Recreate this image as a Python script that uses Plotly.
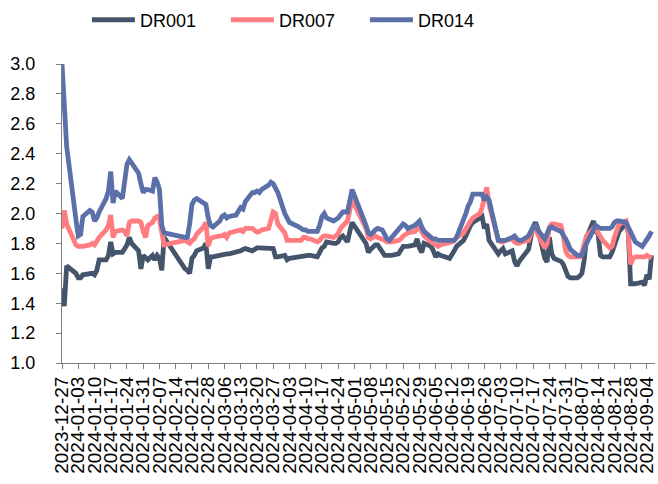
import plotly.graph_objects as go

dates = [
    "2023-12-27", "2023-12-28", "2023-12-29",
    "2024-01-02", "2024-01-03", "2024-01-04", "2024-01-05",
    "2024-01-08", "2024-01-09", "2024-01-10", "2024-01-11", "2024-01-12",
    "2024-01-15", "2024-01-16", "2024-01-17", "2024-01-18", "2024-01-19",
    "2024-01-22", "2024-01-23", "2024-01-24", "2024-01-25", "2024-01-26",
    "2024-01-29", "2024-01-30", "2024-01-31", "2024-02-01", "2024-02-02",
    "2024-02-04", "2024-02-05", "2024-02-06", "2024-02-07", "2024-02-08", "2024-02-09",
    "2024-02-18", "2024-02-19", "2024-02-20", "2024-02-21", "2024-02-22", "2024-02-23",
    "2024-02-26", "2024-02-27", "2024-02-28", "2024-02-29", "2024-03-01",
    "2024-03-04", "2024-03-05", "2024-03-06", "2024-03-07", "2024-03-08",
    "2024-03-11", "2024-03-12", "2024-03-13", "2024-03-14", "2024-03-15",
    "2024-03-18", "2024-03-19", "2024-03-20", "2024-03-21", "2024-03-22",
    "2024-03-25", "2024-03-26", "2024-03-27", "2024-03-28", "2024-03-29",
    "2024-04-01", "2024-04-02", "2024-04-03",
    "2024-04-07", "2024-04-08", "2024-04-09", "2024-04-10", "2024-04-11", "2024-04-12",
    "2024-04-15", "2024-04-16", "2024-04-17", "2024-04-18", "2024-04-19",
    "2024-04-22", "2024-04-23", "2024-04-24", "2024-04-25", "2024-04-26",
    "2024-04-28", "2024-04-29", "2024-04-30",
    "2024-05-06", "2024-05-07", "2024-05-08", "2024-05-09", "2024-05-10", "2024-05-11",
    "2024-05-13", "2024-05-14", "2024-05-15", "2024-05-16", "2024-05-17",
    "2024-05-20", "2024-05-21", "2024-05-22", "2024-05-23", "2024-05-24",
    "2024-05-27", "2024-05-28", "2024-05-29", "2024-05-30", "2024-05-31",
    "2024-06-03", "2024-06-04", "2024-06-05", "2024-06-06", "2024-06-07",
    "2024-06-11", "2024-06-12", "2024-06-13", "2024-06-14",
    "2024-06-17", "2024-06-18", "2024-06-19", "2024-06-20", "2024-06-21",
    "2024-06-24", "2024-06-25", "2024-06-26", "2024-06-27", "2024-06-28",
    "2024-07-01", "2024-07-02", "2024-07-03", "2024-07-04", "2024-07-05",
    "2024-07-08", "2024-07-09", "2024-07-10", "2024-07-11", "2024-07-12",
    "2024-07-15", "2024-07-16", "2024-07-17", "2024-07-18", "2024-07-19",
    "2024-07-22", "2024-07-23", "2024-07-24", "2024-07-25", "2024-07-26",
    "2024-07-29", "2024-07-30", "2024-07-31", "2024-08-01", "2024-08-02",
    "2024-08-05", "2024-08-06", "2024-08-07", "2024-08-08", "2024-08-09",
    "2024-08-12", "2024-08-13", "2024-08-14", "2024-08-15", "2024-08-16",
    "2024-08-19", "2024-08-20", "2024-08-21", "2024-08-22", "2024-08-23",
    "2024-08-26", "2024-08-27", "2024-08-28", "2024-08-29", "2024-08-30",
    "2024-09-02", "2024-09-03", "2024-09-04", "2024-09-05", "2024-09-06",
]

dr001 = [
    1.50, 1.38, 1.65,
    1.60, 1.57, 1.57, 1.59,
    1.60, 1.60, 1.59, 1.62, 1.69,
    1.69, 1.72, 1.81, 1.73, 1.74,
    1.74, 1.77, 1.79, 1.84, 1.80,
    1.75, 1.63, 1.72, 1.70, 1.69,
    1.72, 1.69, 1.72, 1.70, 1.62, 1.84,
    1.63, 1.62, 1.60, 1.70, 1.72, 1.75,
    1.77, 1.80, 1.63, 1.71, 1.71,
    1.72, 1.73, 1.73, 1.73, 1.73,
    1.74, 1.74, 1.75, 1.76, 1.765,
    1.75, 1.76, 1.77, 1.77, 1.77,
    1.77, 1.77, 1.765, 1.71, 1.71,
    1.72, 1.69, 1.70,
    1.71, 1.72, 1.72, 1.72, 1.72, 1.72,
    1.71, 1.74, 1.77, 1.78, 1.81,
    1.80, 1.80, 1.81, 1.84, 1.85,
    1.81, 1.88, 1.94,
    1.80, 1.74, 1.76, 1.78, 1.79, 1.79,
    1.75, 1.72, 1.72, 1.72, 1.72,
    1.73, 1.76, 1.78, 1.78, 1.78,
    1.79, 1.83, 1.77, 1.74, 1.80,
    1.78, 1.75, 1.71, 1.73, 1.72,
    1.70, 1.72, 1.75, 1.78,
    1.82, 1.85, 1.89, 1.92, 1.94,
    1.965, 1.98, 1.90, 1.93, 1.82,
    1.75, 1.73, 1.75, 1.765, 1.73,
    1.75, 1.68, 1.65, 1.68, 1.70,
    1.76, 1.84, 1.91, 1.94, 1.90,
    1.70, 1.675, 1.84, 1.73, 1.70,
    1.68, 1.66, 1.62, 1.58, 1.57,
    1.57, 1.58, 1.60, 1.69, 1.84,
    1.95, 1.88, 1.865, 1.72, 1.71,
    1.71, 1.74, 1.78, 1.84, 1.88,
    1.93, 1.87, 1.53, 1.53, 1.53,
    1.54, 1.52, 1.59, 1.56, 1.72,
]

dr007 = [
    1.90, 2.02, 1.93,
    1.79, 1.78, 1.78, 1.78,
    1.79, 1.80, 1.79, 1.82, 1.84,
    1.89, 1.92, 1.99, 1.84, 1.88,
    1.89, 1.88, 1.85, 1.94, 1.95,
    1.95, 1.94, 1.88, 1.84, 1.92,
    1.94, 1.97, 1.98, 1.96, 1.88, 1.79,
    1.82, 1.81, 1.80, 1.82, 1.83, 1.86,
    1.91, 1.94, 1.78, 1.83, 1.84,
    1.85, 1.85, 1.86, 1.84, 1.87,
    1.88, 1.89, 1.89, 1.88, 1.90,
    1.90, 1.89, 1.875, 1.88, 1.89,
    1.90, 1.96, 2.01, 2.00, 1.93,
    1.87, 1.82, 1.82,
    1.82, 1.82, 1.84, 1.84, 1.83, 1.83,
    1.81, 1.82, 1.84, 1.85, 1.85,
    1.84, 1.85, 1.865, 1.90, 1.92,
    1.95, 2.02, 2.09,
    1.90, 1.84, 1.83, 1.84, 1.85, 1.84,
    1.83, 1.82, 1.81, 1.81, 1.81,
    1.82, 1.83, 1.85, 1.86, 1.87,
    1.88, 1.90, 1.91, 1.88, 1.85,
    1.81, 1.80, 1.79, 1.78, 1.79,
    1.80, 1.81, 1.82, 1.84,
    1.87, 1.90, 1.93, 1.95, 1.97,
    2.00, 2.04, 2.12, 2.175, 2.06,
    1.87, 1.82, 1.81, 1.81, 1.82,
    1.83, 1.81, 1.80, 1.80, 1.81,
    1.82, 1.86, 1.90, 1.91, 1.86,
    1.77, 1.80, 1.91, 1.93, 1.93,
    1.92, 1.85, 1.75, 1.72, 1.71,
    1.71, 1.71, 1.74, 1.80, 1.85,
    1.90, 1.89, 1.87, 1.84, 1.82,
    1.77, 1.78, 1.84, 1.90, 1.93,
    1.95, 1.87, 1.66, 1.70, 1.71,
    1.71, 1.71, 1.72, 1.71, 1.70,
]

dr014 = [
    3.00, 2.72, 2.45,
    1.96, 1.85, 1.86, 1.98,
    2.02, 2.01, 1.95, 1.97, 2.01,
    2.10, 2.15, 2.28, 2.07, 2.15,
    2.10, 2.22, 2.33, 2.36, 2.34,
    2.27, 2.20, 2.14, 2.16, 2.16,
    2.15, 2.24, 2.21, 2.16, 1.92, 1.87,
    1.84, 1.84, 1.93, 2.06, 2.09, 2.10,
    2.07, 2.06, 1.97, 1.92, 1.91,
    1.95, 1.98, 1.99, 1.97, 1.98,
    1.99, 2.01, 2.04, 2.03, 2.08,
    2.14, 2.14, 2.15, 2.14, 2.16,
    2.19, 2.21, 2.20, 2.17, 2.14,
    2.00, 1.96, 1.94,
    1.91, 1.90, 1.89, 1.89, 1.88, 1.88,
    1.88, 1.92, 1.98, 2.00, 1.97,
    1.95, 1.96, 1.97, 1.99, 2.01,
    2.01, 2.08, 2.16,
    1.92, 1.87, 1.86, 1.88, 1.89, 1.90,
    1.89, 1.86, 1.83, 1.82, 1.84,
    1.89, 1.91, 1.93, 1.92, 1.90,
    1.92, 1.94, 1.95, 1.91, 1.88,
    1.84, 1.83, 1.83, 1.82, 1.82,
    1.82, 1.82, 1.82, 1.84,
    1.95, 2.00, 2.05, 2.08, 2.13,
    2.135, 2.13, 2.09, 2.11, 2.09,
    1.87, 1.82, 1.82, 1.82, 1.82,
    1.84, 1.85, 1.83, 1.82, 1.82,
    1.85, 1.88, 1.91, 1.92, 1.89,
    1.83, 1.86, 1.90, 1.91, 1.90,
    1.88, 1.86, 1.83, 1.80, 1.76,
    1.72, 1.72, 1.72, 1.76, 1.80,
    1.89, 1.92, 1.91, 1.90, 1.90,
    1.90, 1.91, 1.94, 1.95, 1.95,
    1.94, 1.91, 1.88, 1.84, 1.81,
    1.78, 1.80, 1.83, 1.85, 1.88,
]

series_names = ["DR001", "DR007", "DR014"]
series_values = [dr001, dr007, dr014]
series_colors = ["#44546A", "#FF7C80", "#5B6FA8"]

fig = go.Figure()
for name, vals, col in zip(series_names, series_values, series_colors):
    fig.add_trace(go.Scatter(
        x=dates, y=vals, mode="lines", name=name,
        line=dict(color=col, width=4.8),
    ))

FONT = "Liberation Sans, Arial, sans-serif"

fig.update_layout(
    width=658, height=484,
    margin=dict(l=62, r=1, t=63, b=121),
    paper_bgcolor="white", plot_bgcolor="white",
    font=dict(family=FONT, color="black", size=18),
    showlegend=True,
    legend=dict(
        orientation="h", x=0.042, xanchor="left", y=1.147, yanchor="middle",
        font=dict(family=FONT, size=18, color="black"),
        itemwidth=43,
        entrywidth=81, entrywidthmode="pixels",
        bgcolor="rgba(0,0,0,0)",
    ),
    xaxis=dict(
        type="date",
        range=["2023-12-27", "2024-09-07 12:00"],
        tick0="2023-12-27", dtick=7 * 86400000,
        tickformat="%Y-%m-%d", tickangle=-90,
        ticks="outside", ticklen=5, tickcolor="#7f7f7f",
        showline=True, linecolor="#7f7f7f", linewidth=1,
        showgrid=False, zeroline=False,
        ticklabeloverflow="allow",
        tickfont=dict(family=FONT, size=19, color="black"),
    ),
    yaxis=dict(
        range=[1.0, 3.0], dtick=0.2, tickformat=".1f",
        ticks="outside", ticklen=5, tickcolor="#7f7f7f",
        showline=True, linecolor="#7f7f7f", linewidth=1,
        showgrid=False, zeroline=False,
        ticklabelstandoff=17,
        tickfont=dict(family=FONT, size=18, color="black"),
    ),
)

fig.write_html("out.html")
